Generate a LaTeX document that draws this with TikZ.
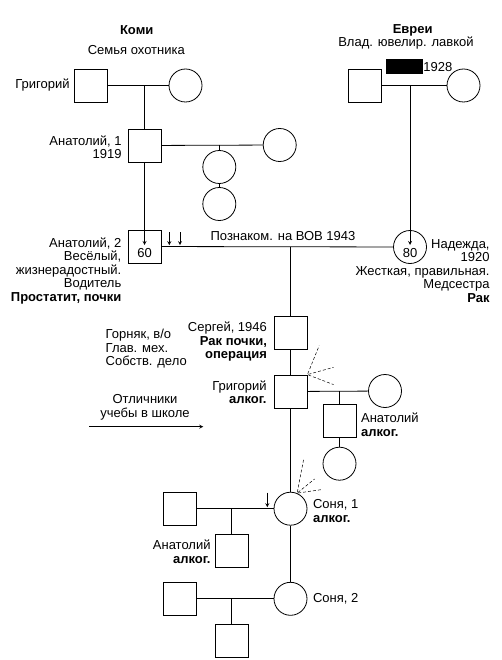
\documentclass[tikz,border=0pt]{standalone}
\usepackage{fontspec}
\setmainfont{Liberation Sans}
\usetikzlibrary{positioning}

\begin{document}
\begin{tikzpicture}[
    x=1pt, y=-1pt,
    line width=0.8pt,
    male/.style={rectangle, draw, minimum size=33pt, inner sep=0pt},
    female/.style={circle, draw, minimum size=33pt, inner sep=0pt},
    txt/.style={inner sep=0pt, font=\fontsize{13}{13.5}\selectfont},
    arrow/.style={->, >=stealth},
    ray/.style={line width=0.5pt, dash pattern=on 3pt off 2pt}
]
\useasboundingbox (0,0) rectangle (502,660);

% Komi
\node[txt, font=\fontsize{13}{13.5}\selectfont\bfseries] (komi) at (136.7,30) {Коми};
\node[txt] (komisub) at (136.3,50) {Семья охотника};
\node[male] (grig1) at (90.5,85.5) {};
\node[female] (grig1w) at (185.5,85.5) {};
\coordinate (k1) at (144.5,85.5);
\node[txt, anchor=east] (grig1l) at (70,85) {Григорий};

\node[male] (anat1) at (144.5,145.5) {};
\node[female] (anat1w) at (279.7,145) {};
\coordinate (k2) at (219.3,145);
\node[female] (sis1) at (219.3,167) {};
\node[female] (sis2) at (219.3,204) {};
\node[txt, anchor=east, align=right] (anat1l) at (122,147.3) {Анатолий, 1\\1919};

\node[male] (anat2) at (144.5,246.5) {};
\node[txt] (age2) at ([yshift=-6.5pt]anat2.center) {60};
\node[txt, anchor=east, align=right] (anat2l) at (121.7,270.7)
    {Анатолий, 2\\Весёлый,\hspace*{2.5pt}\\жизнерадостный.\\Водитель\\\textbf{Простатит, почки}};

% Evrei
\node[txt, font=\fontsize{13}{13.5}\selectfont\bfseries] (evrei) at (412.7,30) {Евреи};
\node[txt] (evreisub) at (406,43) {Влад. ювелир. лавкой};
\node[fill=black, minimum width=36.7pt, minimum height=14.7pt, inner sep=0pt] (hidden) at (404.3,66.7) {};
\node[txt, anchor=west] (year) at (hidden.east) {1928};
\node[male] (evr) at (364.7,85.5) {};
\node[female] (evrw) at (463.5,85.5) {};
\coordinate (e1) at (410,85.5);

\node[female] (nad) at (410,247) {};
\node[txt] (age8) at ([yshift=-6.5pt]nad.center) {80};
\node[txt, anchor=east, align=right] (nadl) at (490,270.8)
    {Надежда,\\1920\\Жесткая, правильная.\\Медсестра\\\textbf{Рак}};

\coordinate (m1) at (290.5,246.7);
\node[txt] (meet) at (283,236.5) {Познаком. на ВОВ 1943};
\coordinate (pa1) at (169.3,232);
\coordinate (pa2) at (180,232);

% Children
\node[male] (serg) at (290.5,332.7) {};
\node[txt, anchor=east, align=right] (sergl) at (267.3,341.7)
    {Сергей, 1946\\\textbf{Рак почки,}\\\textbf{операция}};
\node[txt, anchor=west, align=left] (work) at (105.3,349) {Горняк, в/о\\Глав. мех.\\Собств. дело};

\node[male] (grig2) at (290.5,391.5) {};
\node[txt, anchor=east, align=right] (grig2l) at (267,392.2) {Григорий\\\textbf{алког.}};
\node[female] (grig2w) at (385,391) {};
\coordinate (g1) at (339.5,391);
\node[male] (anat3) at (339.5,420.5) {};
\node[txt, anchor=west, align=left] (anat3l) at (360.7,424.7) {Анатолий\\\textbf{алког.}};
\node[female] (sis3) at (339.5,463.7) {};

\node[txt, align=center] (school) at (145,407.5) {Отличники\\учебы в школе};
\coordinate (sc0) at (89.3,426.7);
\coordinate (sc1) at (203.3,426.7);

\node[female] (sonya1) at (290.5,508.7) {};
\node[txt, anchor=west, align=left] (sonya1l) at (312.7,511.2) {Соня, 1\\\textbf{алког.}};
\node[male] (hus1) at (180,508.7) {};
\coordinate (s1) at (231.5,508.7);
\node[male] (anat4) at (231.5,550.8) {};
\node[txt, anchor=east, align=right] (anat4l) at (211,551.7) {Анатолий\\\textbf{алког.}};
\coordinate (pa3) at (267.3,492.5);

\node[female] (sonya2) at (290.5,598.8) {};
\node[txt, anchor=west] (sonya2l) at (312.7,598.7) {Соня, 2};
\node[male] (hus2) at (180,598.8) {};
\coordinate (s2) at (231.5,598.8);
\node[male] (kid) at (231.5,640.5) {};

% Lines Komi
\draw (grig1) -- (grig1w);
\draw (k1) -- (anat1);
\draw (anat1) -- (anat1w);
\draw (k2) -- (sis1);
\draw (sis1) -- (sis2);
\draw[arrow, shorten >=1.5pt] (anat1) -- (anat2.center);

% Lines Evrei
\draw (evr) -- (evrw);
\draw[arrow, shorten >=2pt] (e1) -- (nad.center);

% Marriage and descent
\draw (anat2) -- (nad);
\draw[arrow, shorten >=1.5pt] (pa1) -- (pa1 |- m1);
\draw[arrow, shorten >=1.5pt] (pa2) -- (pa2 |- m1);
\draw (m1) -- (serg);
\draw (serg) -- (grig2);
\draw (grig2) -- (grig2w);
\draw (g1) -- (anat3);
\draw (anat3) -- (sis3);
\draw (grig2) -- (sonya1);
\draw[arrow] (sc0) -- (sc1);
\draw (hus1) -- (sonya1);
\draw (s1) -- (anat4);
\draw[arrow, shorten >=1.5pt] (pa3) -- (pa3 |- s1);
\draw (sonya1) -- (sonya2);
\draw (hus2) -- (sonya2);
\draw (s2) -- (kid);

% Dashed rays
\draw[ray, shorten <=1pt] (grig2.north east) -- ++(11.8,-29);
\draw[ray, shorten <=1pt] (grig2.north east) -- ++(26.2,-7.3);
\draw[ray, shorten <=1pt] (grig2.north east) -- ++(26.2,10);
\draw[ray, shorten <=1pt] (sonya1.67) -- ++(6.8,-35.2);
\draw[ray, shorten <=1pt] (sonya1.67) -- ++(17.5,-14.2);
\draw[ray, shorten <=1pt] (sonya1.67) -- ++(24.2,-3.5);

\end{tikzpicture}
\end{document}
